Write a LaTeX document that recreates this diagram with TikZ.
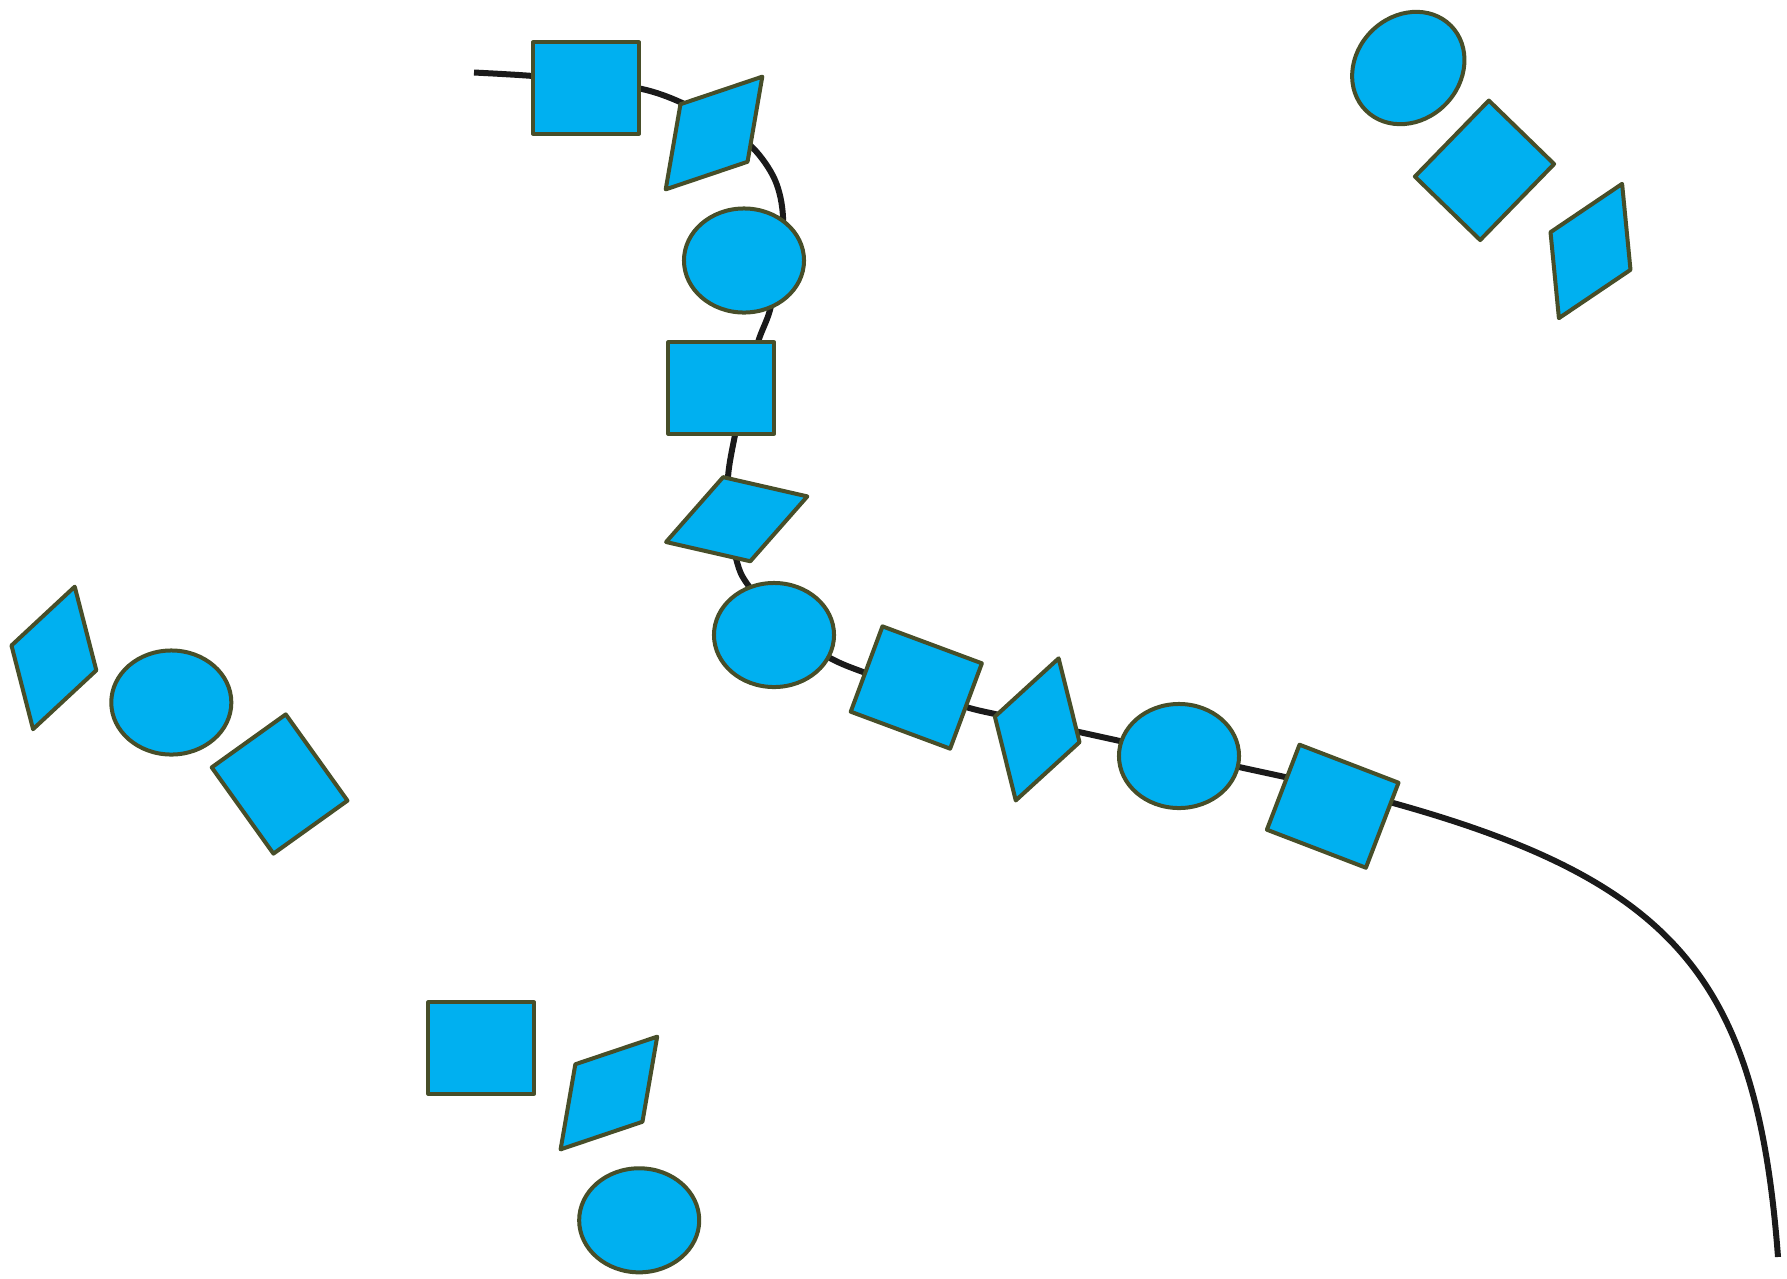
\documentclass[tikz,border=0pt]{standalone}
\usepackage{xcolor}
\usepackage{tikz}
\usetikzlibrary{shapes.geometric}

\definecolor{glyfill}{RGB}{0,176,240}
\definecolor{glyedge}{RGB}{71,78,41}
\definecolor{chainblack}{RGB}{26,26,26}

\begin{document}
\begin{tikzpicture}[
  x=0.01cm, y=-0.01cm,
  sq/.style={draw=glyedge, fill=glyfill, line width=0.04cm, line join=round,
             inner sep=0pt, minimum width=1.06cm, minimum height=0.91cm},
  circ/.style={ellipse, draw=glyedge, fill=glyfill, line width=0.04cm,
               inner sep=0pt, minimum width=1.20cm, minimum height=1.04cm},
  rhomb/.style={diamond, draw=glyedge, fill=glyfill, line width=0.04cm,
                line join=round, inner sep=0pt,
                minimum width=1.50cm, minimum height=0.90cm},
  chain/.style={draw=chainblack, line width=0.06cm},
]
\useasboundingbox (0,0) rectangle (1787,1278);

% ---- backbone curve (under the shapes) ----
\coordinate (cstart) at (474,72.5);
\coordinate (cend)   at (1778,1257);
\draw[chain] plot[smooth, tension=0.55] coordinates {
  (cstart) (533,76) (590,82) (642,89) (680,102) (720,124) (753,148)
  (775,180) (783,217) (779,265) (770,310) (758,342) (745,390) (735,435)
  (728,477) (729,520) (737,562) (748,585) (785,630) (830,658) (863,672)
  (915,690) (966,707) (995,714) (1037,723) (1079,732) (1120,741)
  (1180,754) (1239,767) (1285,777) (1340,789)}
  .. controls (1668,871) and (1756,965) .. (cend);

% ---- main chain ----
\node[sq]                  (r1) at (586,88)        {};
\node[rhomb, rotate=49.4]  (p1) at (714,133)       {};
\node[circ]                (e1) at (744,260.5)     {};
\node[sq]                  (r2) at (721.3,388)     {};
\node[rhomb, rotate=17.9]  (p2) at (736.7,519.2)   {};
\node[circ]                (e2) at (774,635)       {};
\node[sq, rotate=-20.4]    (r3) at (916.3,687.5)   {};
\node[rhomb, rotate=73.2]  (p3) at (1037.2,729.4)  {};
\node[circ]                (e3) at (1179,756)      {};
\node[sq, rotate=-21]      (r4) at (1332.7,806.2)  {};

% ---- top right group ----
\node[circ, rotate=45]     (e4) at (1408.3,68)     {};
\node[sq, rotate=45.8]     (r5) at (1484.5,170.3)  {};
\node[rhomb, rotate=64.8]  (p4) at (1590.5,251)    {};

% ---- left group ----
\node[rhomb, rotate=73.7]  (p5) at (53.9,657.9)    {};
\node[circ]                (e5) at (171.3,702.5)   {};
\node[sq, rotate=-54.4]    (r6) at (279.6,784)     {};

% ---- bottom group ----
\node[sq]                  (r7) at (481.3,1048)    {};
\node[rhomb, rotate=49.4]  (p6) at (608.9,1093)    {};
\node[circ]                (e6) at (639.2,1220.3)  {};
\end{tikzpicture}
\end{document}
